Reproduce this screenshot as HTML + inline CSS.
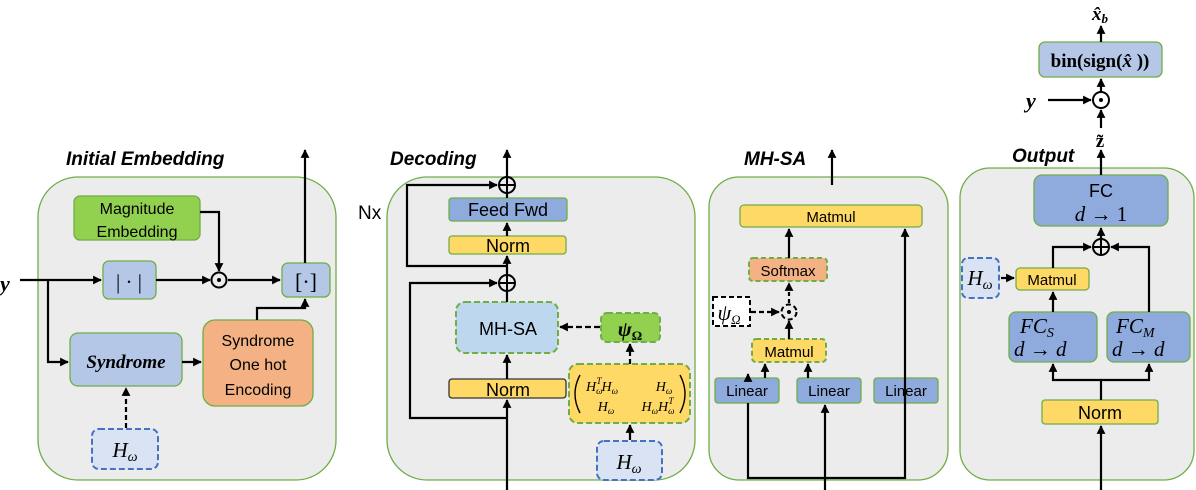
<!DOCTYPE html>
<html><head><meta charset="utf-8"><style>
html,body{margin:0;padding:0;background:#fff;}
svg{display:block;}
.s{font-family:"Liberation Sans",sans-serif;}
.m{font-family:"Liberation Serif",serif;font-style:italic;}
</style></head><body>
<svg width="1196" height="490" viewBox="0 0 1196 490" xmlns="http://www.w3.org/2000/svg">
<defs>
<marker id="a" viewBox="0 0 10 10" refX="9" refY="5" markerWidth="4" markerHeight="4" orient="auto-start-reverse"><path d="M0,0L10,5L0,10z" fill="#000"/></marker>
</defs>
<g stroke="#70ad47" stroke-width="1.3" fill="#ececec">
<rect x="38" y="177" width="298" height="303" rx="40"/>
<rect x="387" y="177" width="308" height="303" rx="40"/>
<rect x="709" y="177" width="239" height="303" rx="30"/>
<rect x="960" y="168" width="234" height="312" rx="30"/>
</g>
<g class="s" font-weight="bold" font-style="italic" font-size="19" fill="#000">
<text x="66" y="165">Initial Embedding</text>
<text x="390" y="165">Decoding</text>
<text x="744" y="165">MH-SA</text>
<text x="1012" y="162">Output</text>
</g>
<text class="s" x="358" y="219" font-size="19">Nx</text>

<!-- Panel 1 -->
<g stroke="#70ad47" stroke-width="1.3">
<rect x="74" y="196" width="126" height="44" rx="6" fill="#92d050"/>
<rect x="103" y="261" width="53" height="38" rx="6" fill="#b4c7e7"/>
<rect x="282" y="263" width="48" height="34" rx="6" fill="#b4c7e7"/>
<rect x="70" y="333" width="112" height="53" rx="8" fill="#b4c7e7"/>
<rect x="203" y="320" width="110" height="86" rx="12" fill="#f4b183"/>
</g>
<rect x="92" y="429" width="66" height="40" rx="7" fill="#dae3f3" stroke="#4472c4" stroke-width="2" stroke-dasharray="6,3"/>
<g class="s" font-size="16" text-anchor="middle">
<text x="137" y="214">Magnitude</text><text x="137" y="237">Embedding</text>
<text x="258" y="346">Syndrome</text><text x="258" y="370">One hot</text><text x="258" y="395">Encoding</text>
</g>
<text x="129" y="289" font-family="Liberation Serif" font-size="21" text-anchor="middle">| · |</text>
<text x="306" y="289" font-family="Liberation Serif" font-size="22" text-anchor="middle">[·]</text>
<text class="m" x="126" y="368" font-size="19" font-weight="bold" text-anchor="middle">Syndrome</text>
<text class="m" x="125" y="457" font-size="21" text-anchor="middle">H<tspan font-size="14" dy="4">ω</tspan></text>
<text class="m" x="0" y="291" font-size="22" font-weight="bold">y</text>
<g stroke="#000" stroke-width="2.2" fill="none">
<path d="M20 280H101" marker-end="url(#a)"/>
<path d="M48 280V362H68" marker-end="url(#a)"/>
<path d="M156 280H210" marker-end="url(#a)"/>
<path d="M228 280H280" marker-end="url(#a)"/>
<path d="M200 212H219V271" marker-end="url(#a)"/>
<path d="M182 362H201" marker-end="url(#a)"/>
<path d="M257 320V308H305V299" marker-end="url(#a)"/>
<path d="M305 263V150" marker-end="url(#a)"/>
<path d="M126 428V388" stroke-dasharray="5,3" marker-end="url(#a)"/>
<circle cx="219" cy="280" r="7.5" stroke-width="2"/>
</g>
<circle cx="219" cy="280" r="2" fill="#000"/>

<!-- Panel 2 -->
<g stroke="#70ad47" stroke-width="1.3">
<rect x="449" y="198" width="118" height="23" rx="3" fill="#8faadc"/>
<rect x="449" y="236" width="117" height="18" rx="3" fill="#ffd966"/>
</g>
<rect x="449" y="379" width="117" height="19" rx="3" fill="#ffd966" stroke="#333" stroke-width="1.3"/>
<g stroke="#70ad47" stroke-width="2" stroke-dasharray="6,3">
<rect x="456" y="302" width="102" height="51" rx="9" fill="#bdd7ee"/>
<rect x="601" y="313" width="59" height="29" rx="6" fill="#92d050"/>
<rect x="569" y="364" width="121" height="59" rx="9" fill="#ffd966"/>
</g>
<rect x="597" y="441" width="65" height="39" rx="7" fill="#dae3f3" stroke="#4472c4" stroke-width="2" stroke-dasharray="6,3"/>
<g class="s" text-anchor="middle">
<text x="508" y="216" font-size="18">Feed Fwd</text>
<text x="508" y="252" font-size="18">Norm</text>
<text x="508" y="335" font-size="18">MH-SA</text>
<text x="508" y="396" font-size="18">Norm</text>
</g>
<text x="630" y="336" font-family="Liberation Serif" font-weight="bold" font-style="italic" font-size="21" text-anchor="middle">ψ<tspan font-size="13" dy="4" font-style="normal">Ω</tspan></text>
<g class="m" font-size="14" text-anchor="middle">
<text x="602" y="391">H<tspan font-size="9" dy="3">ω</tspan><tspan font-size="9" dy="-10" dx="-6">T</tspan><tspan dy="7">H</tspan><tspan font-size="9" dy="3">ω</tspan></text>
<text x="664" y="391">H<tspan font-size="9" dy="3">ω</tspan></text>
<text x="606" y="411">H<tspan font-size="9" dy="3">ω</tspan></text>
<text x="658" y="411">H<tspan font-size="9" dy="3">ω</tspan><tspan dy="-3">H</tspan><tspan font-size="9" dy="3">ω</tspan><tspan font-size="9" dy="-10" dx="-6">T</tspan></text>
</g>
<g stroke="#000" stroke-width="1.4" fill="none">
<path d="M580 375Q570 394 580 413"/>
<path d="M680 375Q690 394 680 413"/>
</g>
<text class="m" x="629" y="469" font-size="21" text-anchor="middle">H<tspan font-size="14" dy="4">ω</tspan></text>
<g stroke="#000" stroke-width="2.2" fill="none">
<path d="M507 490V400" marker-end="url(#a)"/>
<path d="M507 379V355" marker-end="url(#a)"/>
<path d="M507 302V292"/>
<path d="M507 275V256" marker-end="url(#a)"/>
<path d="M507 236V223" marker-end="url(#a)"/>
<path d="M507 198V193"/>
<path d="M507 177V150" marker-end="url(#a)"/>
<path d="M507 418H410V283H497" marker-end="url(#a)"/>
<path d="M507 266H407V185H497" marker-end="url(#a)"/>
<path d="M630 440V425" marker-end="url(#a)"/>
<path d="M630 364V344" stroke-dasharray="5,3" marker-end="url(#a)"/>
<path d="M600 327H560" stroke-dasharray="6,3" marker-end="url(#a)"/>
<circle cx="507" cy="185" r="8" stroke-width="2"/>
<circle cx="507" cy="283" r="8" stroke-width="2"/>
<path d="M499 185H515M507 177V193M499 283H515M507 275V291" stroke-width="2"/>
</g>

<!-- Panel 3 -->
<g stroke="#70ad47" stroke-width="1.3">
<rect x="740" y="205" width="182" height="22" rx="4" fill="#ffd966"/>
<rect x="715" y="378" width="64" height="25" rx="3" fill="#8faadc"/>
<rect x="797" y="378" width="64" height="25" rx="3" fill="#8faadc"/>
<rect x="874" y="378" width="64" height="25" rx="3" fill="#8faadc"/>
</g>
<g stroke="#70ad47" stroke-width="2" stroke-dasharray="5,3">
<rect x="749" y="258" width="78" height="23" rx="4" fill="#f4b183"/>
<rect x="752" y="339" width="74" height="23" rx="4" fill="#ffd966"/>
</g>
<rect x="713" y="297" width="37" height="29" fill="#fff" stroke="#000" stroke-width="2" stroke-dasharray="5,3"/>
<g class="s" text-anchor="middle" font-size="15">
<text x="831" y="222">Matmul</text>
<text x="788" y="276">Softmax</text>
<text x="789" y="357">Matmul</text>
<text x="747" y="396">Linear</text>
<text x="829" y="396">Linear</text>
<text x="906" y="396">Linear</text>
</g>
<text x="729" y="320" font-family="Liberation Serif" font-style="italic" font-size="22" text-anchor="middle">ψ<tspan font-size="13" dy="4">Ω</tspan></text>
<g stroke="#000" stroke-width="2.2" fill="none">
<path d="M832 185V150" marker-end="url(#a)"/>
<path d="M825 490V405" marker-end="url(#a)"/>
<path d="M748 403V478H905V229" marker-end="url(#a)"/>
<path d="M748 378V374" marker-end="url(#a)"/>
<path d="M765 378V364" marker-end="url(#a)"/>
<path d="M808 378V364" marker-end="url(#a)"/>
<path d="M789 339V321" marker-end="url(#a)"/>
<path d="M789 303V283" stroke-dasharray="4,3" marker-end="url(#a)"/>
<path d="M789 258V229" marker-end="url(#a)"/>
<path d="M751 312H779" stroke-dasharray="5,3" marker-end="url(#a)"/>
<circle cx="789" cy="312" r="7.5" stroke-width="2" stroke-dasharray="5,3"/>
</g>
<circle cx="789" cy="312" r="2" fill="#000"/>

<!-- Panel 4 -->
<g stroke="#70ad47" stroke-width="1.3">
<rect x="1039" y="42" width="123" height="35" rx="6" fill="#b4c7e7"/>
<rect x="1034" y="175" width="134" height="51" rx="8" fill="#8faadc"/>
<rect x="1016" y="268" width="73" height="22" rx="4" fill="#ffd966"/>
<rect x="1009" y="312" width="88" height="50" rx="7" fill="#8faadc"/>
<rect x="1107" y="312" width="83" height="50" rx="7" fill="#8faadc"/>
<rect x="1042" y="400" width="116" height="24" rx="3" fill="#ffd966"/>
</g>
<rect x="962" y="258" width="37" height="40" rx="6" fill="#dae3f3" stroke="#4472c4" stroke-width="2" stroke-dasharray="6,3"/>
<text x="1100" y="67" font-family="Liberation Serif" font-weight="bold" font-size="19" text-anchor="middle">bin(sign(<tspan font-style="italic">x̂</tspan> ))</text>
<text x="1100" y="20" font-family="Liberation Serif" font-weight="bold" font-style="italic" font-size="19" text-anchor="middle">x̂<tspan font-size="13" dy="3">b</tspan></text>
<text x="1100" y="147" font-family="Liberation Serif" font-weight="bold" font-size="19" text-anchor="middle">z̃</text>
<text class="m" x="1026" y="108" font-size="22" font-weight="bold">y</text>
<g class="s" text-anchor="middle">
<text x="1101" y="197" font-size="18">FC</text>
<text x="1052" y="285" font-size="15">Matmul</text>
<text x="1100" y="419" font-size="18">Norm</text>
</g>
<g class="m" font-size="21">
<text x="1101" y="221" text-anchor="middle"><tspan font-style="italic">d</tspan><tspan font-style="normal"> → 1</tspan></text>
<text x="1020" y="333">FC<tspan font-size="14" dy="4">S</tspan></text>
<text x="1014" y="356"><tspan>d</tspan><tspan font-style="normal"> → </tspan>d</text>
<text x="1116" y="333">FC<tspan font-size="14" dy="4">M</tspan></text>
<text x="1112" y="356"><tspan>d</tspan><tspan font-style="normal"> → </tspan>d</text>
<text x="980" y="285" text-anchor="middle">H<tspan font-size="14" dy="4">ω</tspan></text>
</g>
<g stroke="#000" stroke-width="2.2" fill="none">
<path d="M1101 490V426" marker-end="url(#a)"/>
<path d="M1101 400V380H1053V364" marker-end="url(#a)"/>
<path d="M1101 380H1149V364" marker-end="url(#a)"/>
<path d="M1053 312V292" marker-end="url(#a)"/>
<path d="M1053 268V247H1091" marker-end="url(#a)"/>
<path d="M1149 312V247H1111" marker-end="url(#a)"/>
<path d="M1001 278H1014" marker-end="url(#a)"/>
<path d="M1101 239V228" marker-end="url(#a)"/>
<path d="M1101 175V150" marker-end="url(#a)"/>
<path d="M1101 128V110" marker-end="url(#a)"/>
<path d="M1048 100H1091" marker-end="url(#a)"/>
<path d="M1101 92V79" marker-end="url(#a)"/>
<path d="M1101 42V26" marker-end="url(#a)"/>
<circle cx="1101" cy="247" r="8" stroke-width="2"/>
<path d="M1093 247H1109M1101 239V255" stroke-width="2"/>
<circle cx="1101" cy="100" r="8" stroke-width="2"/>
</g>
<circle cx="1101" cy="100" r="2" fill="#000"/>
</svg>
</body></html>
